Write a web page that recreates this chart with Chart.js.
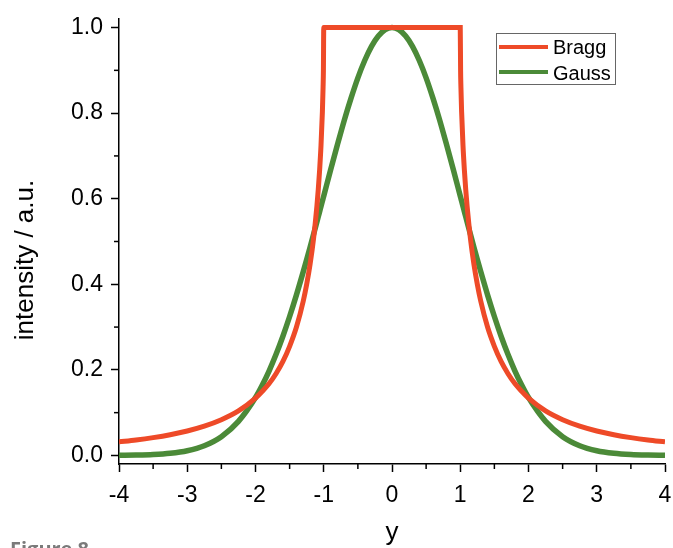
<!DOCTYPE html>
<html>
<head>
<meta charset="utf-8">
<script src="https://cdn.jsdelivr.net/npm/chart.js@4.4.1/dist/chart.umd.min.js"></script>
<style>
  html, body { margin: 0; padding: 0; background: #fff; overflow: hidden; }
  #wrap { position: relative; width: 673px; height: 548px; }
  #fig { position: absolute; left: 10px; top: 539px; font-family: "Open Sans", "DejaVu Sans", sans-serif; font-weight: 700; font-size: 20px; color: #7a7a7a; line-height: 1; white-space: nowrap; }
</style>
</head>
<body>
<div id="wrap">
  <canvas id="c" width="673" height="548"></canvas>
  <div id="fig">Figure 8</div>
</div>
<script>
// ---- data ----
const yPos = [-4, -3.75, -3.5, -3.25, -3, -2.75, -2.5, -2.25, -2, -1.9, -1.8, -1.7, -1.6, -1.5, -1.4, -1.3, -1.25, -1.2, -1.15, -1.1, -1.08, -1.06, -1.04, -1.02, -1.01, -1.005,
  -1, -0.9, -0.8, -0.7, -0.6, -0.5, -0.4, -0.3, -0.2, -0.1, 0, 0.1, 0.2, 0.3, 0.4, 0.5, 0.6, 0.7, 0.8, 0.9, 1,
  1.005, 1.01, 1.02, 1.04, 1.06, 1.08, 1.1, 1.15, 1.2, 1.25, 1.3, 1.4, 1.5, 1.6, 1.7, 1.8, 1.9, 2, 2.25, 2.5, 2.75, 3, 3.25, 3.5, 3.75, 4];

const braggIntensity = [0.0318, 0.0362, 0.0417, 0.0485, 0.0572, 0.0685, 0.0835, 0.104, 0.134, 0.150, 0.168, 0.191, 0.219, 0.255, 0.300, 0.361, 0.400, 0.447, 0.506, 0.583, 0.622, 0.668, 0.725, 0.803, 0.860, 0.900,
  1, 1, 1, 1, 1, 1, 1, 1, 1, 1, 1, 1, 1, 1, 1, 1, 1, 1, 1, 1, 1,
  0.900, 0.860, 0.803, 0.725, 0.668, 0.622, 0.583, 0.506, 0.447, 0.400, 0.361, 0.300, 0.255, 0.219, 0.191, 0.168, 0.150, 0.134, 0.104, 0.0835, 0.0685, 0.0572, 0.0485, 0.0417, 0.0362, 0.0318];

const gaussIntensity = [0.0003, 0.0009, 0.0022, 0.0051, 0.0111, 0.0228, 0.0439, 0.0796, 0.1353, 0.1645, 0.1979, 0.2357, 0.2780, 0.3247, 0.3753, 0.4296, 0.4578, 0.4868, 0.5162, 0.5461, 0.5581, 0.5702, 0.5823, 0.5944, 0.6005, 0.6035,
  0.6065, 0.667, 0.726, 0.783, 0.835, 0.8825, 0.923, 0.956, 0.980, 0.995, 1, 0.995, 0.980, 0.956, 0.923, 0.8825, 0.835, 0.783, 0.726, 0.667, 0.6065,
  0.6035, 0.6005, 0.5944, 0.5823, 0.5702, 0.5581, 0.5461, 0.5162, 0.4868, 0.4578, 0.4296, 0.3753, 0.3247, 0.2780, 0.2357, 0.1979, 0.1645, 0.1353, 0.0796, 0.0439, 0.0228, 0.0111, 0.0051, 0.0022, 0.0009, 0.0003];

const seriesNames = ['Bragg', 'Gauss'];
const xTickValues = [-4, -3.5, -3, -2.5, -2, -1.5, -1, -0.5, 0, 0.5, 1, 1.5, 2, 2.5, 3, 3.5, 4];
const yTickValues = [0, 0.1, 0.2, 0.3, 0.4, 0.5, 0.6, 0.7, 0.8, 0.9, 1.0];
const xAxisTitle = 'y';
const yAxisTitle = 'intensity / a.u.';

const RED = '#ee4a28';
const GREEN = '#4b8a38';
const FONT = '"Liberation Sans", Arial, Helvetica, sans-serif';

const toPts = (ys) => yPos.map((x, i) => ({ x: x, y: ys[i] }));

const extras = {
  id: 'extras',
  afterDraw(chart) {
    const ctx = chart.ctx;
    const xs = chart.scales.x, ys = chart.scales.y;
    ctx.save();
    // minor ticks
    ctx.strokeStyle = '#000';
    ctx.lineWidth = 1.5;
    xs.ticks.forEach((t, i) => {
      if (i % 2 === 1) {
        const px = xs.getPixelForValue(t.value);
        ctx.beginPath(); ctx.moveTo(px, xs.top); ctx.lineTo(px, xs.top + 5); ctx.stroke();
      }
    });
    ys.ticks.forEach((t, i) => {
      if (i % 2 === 1) {
        const py = ys.getPixelForValue(t.value);
        ctx.beginPath(); ctx.moveTo(ys.right, py); ctx.lineTo(ys.right - 5, py); ctx.stroke();
      }
    });
    // y axis title
    ctx.fillStyle = '#000';
    ctx.font = '26px ' + FONT;
    ctx.textAlign = 'center';
    ctx.textBaseline = 'middle';
    ctx.translate(26, 260);
    ctx.rotate(-Math.PI / 2);
    ctx.fillText(yAxisTitle, 0, 0);
    ctx.restore();

    // legend
    ctx.save();
    ctx.strokeStyle = '#666';
    ctx.lineWidth = 1;
    ctx.strokeRect(496.5, 33.5, 119, 51);
    const rows = [47, 72];
    const txt = [48, 74];
    chart.data.datasets.forEach((ds, i) => {
      ctx.strokeStyle = ds.borderColor;
      ctx.lineWidth = 4;
      ctx.beginPath(); ctx.moveTo(499, rows[i]); ctx.lineTo(548, rows[i]); ctx.stroke();
      ctx.fillStyle = '#000';
      ctx.font = '20px ' + FONT;
      ctx.textAlign = 'left';
      ctx.textBaseline = 'middle';
      ctx.fillText(ds.label, 553, txt[i]);
    });
    ctx.restore();
  }
};

new Chart(document.getElementById('c'), {
  type: 'line',
  data: {
    datasets: [
      { label: seriesNames[0], data: toPts(braggIntensity), borderColor: RED, borderWidth: 5, pointRadius: 0, cubicInterpolationMode: 'monotone', fill: false },
      { label: seriesNames[1], data: toPts(gaussIntensity), borderColor: GREEN, borderWidth: 5.5, pointRadius: 0, cubicInterpolationMode: 'monotone', fill: false }
    ]
  },
  options: {
    responsive: false,
    devicePixelRatio: 1,
    animation: false,
    events: [],
    layout: { padding: { top: 19, right: 8, left: 0, bottom: 0 } },
    plugins: { legend: { display: false }, tooltip: { enabled: false } },
    scales: {
      x: {
        type: 'linear', min: -4, max: 4,
        afterFit: (s) => { s.height = 84; s.paddingRight = 0; s.paddingLeft = 0; },
        afterBuildTicks: (s) => { s.ticks = xTickValues.map(v => ({ value: v })); },
        border: { display: true, color: '#000', width: 1.5 },
        grid: {
          drawOnChartArea: false, drawTicks: true, tickLength: 8, tickWidth: 1.5,
          tickColor: (c) => (c.tick && Number.isInteger(c.tick.value)) ? '#000' : 'rgba(0,0,0,0)'
        },
        ticks: {
          autoSkip: false, maxRotation: 0, padding: 10, color: '#000',
          font: { family: FONT, size: 23 },
          callback: (v, i) => (i % 2 === 0 ? String(v) : '')
        },
        title: { display: true, text: xAxisTitle, color: '#000', font: { family: FONT, size: 26 }, padding: { top: 0, bottom: 0 } }
      },
      y: {
        type: 'linear', min: -0.02, max: 1.02,
        afterFit: (s) => { s.width = 119; s.paddingTop = 0; s.paddingBottom = 0; },
        afterBuildTicks: (s) => { s.ticks = yTickValues.map(v => ({ value: v })); },
        border: { display: true, color: '#000', width: 1.5 },
        grid: {
          drawOnChartArea: false, drawTicks: true, tickLength: 8, tickWidth: 1.5,
          tickColor: (c) => (c.index % 2 === 0) ? '#000' : 'rgba(0,0,0,0)'
        },
        ticks: {
          autoSkip: false, padding: 8, color: '#000',
          font: { family: FONT, size: 23 },
          callback: (v, i) => (i % 2 === 0 ? Number(v).toFixed(1) : '')
        },
        title: { display: false }
      }
    }
  },
  plugins: [extras]
});
</script>
</body>
</html>
